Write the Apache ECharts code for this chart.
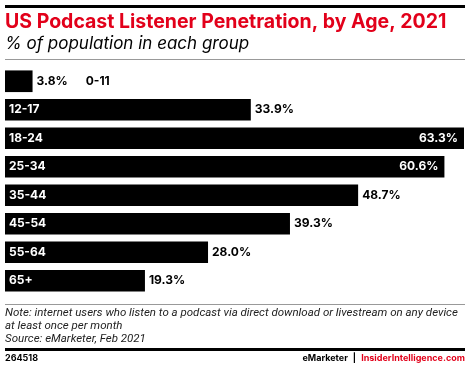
<!DOCTYPE html>
<html><head><meta charset="utf-8">
<script src="https://cdn.jsdelivr.net/npm/echarts@6/dist/echarts.min.js"></script>
<style>html,body{margin:0;padding:0;background:#fff}#c{width:470px;height:369px}</style>
</head><body><div id="c"></div>
<script>
var categories = ['0-11','12-17','18-24','25-34','35-44','45-54','55-64','65+'];
var values = [3.8, 33.9, 63.3, 60.6, 48.7, 39.3, 28.0, 19.3];
var insideValueCats = ['18-24','25-34'];
var outsideNameCats = ['0-11'];

var RED = '#e2001a';
var FONT = 'Inter';
var chart = echarts.init(document.getElementById('c'), null, {renderer:'canvas'});

var nameData = values.map(function(v,i){
  var hide = outsideNameCats.indexOf(categories[i]) >= 0;
  return {value:v, label:{show:!hide}};
});
var valData = values.map(function(v,i){
  var c = categories[i];
  var d = {value:v};
  if (insideValueCats.indexOf(c) >= 0) {
    d.label = {position:'insideRight', color:'#fff', distance:6};
  } else if (outsideNameCats.indexOf(c) >= 0) {
    d.label = {formatter: function(p){ return '{v|' + p.value.toFixed(1) + '%}{c|' + p.name + '}'; }};
  }
  return d;
});

chart.setOption({
  animation:false,
  grid:{left:5, right:6, top:67, height:228},
  xAxis:{type:'value', min:0, max:63.3, show:false},
  yAxis:{type:'category', data:categories, inverse:true, show:false},
  series:[
    {type:'bar', data:nameData, barCategoryGap:'24%', itemStyle:{color:'#000'}, z:2,
     label:{show:true, position:'insideLeft', distance:4, color:'#fff', fontFamily:FONT, fontWeight:'bold', fontSize:12,
       formatter:function(p){return p.name;}}},
    {type:'bar', data:valData, barCategoryGap:'24%', barGap:'-100%', itemStyle:{color:'rgba(0,0,0,0)'}, z:3,
     label:{show:true, position:'right', distance:4, color:'#000', fontFamily:FONT, fontWeight:'bold', fontSize:12,
       formatter:function(p){return p.value.toFixed(1)+'%';},
       rich:{v:{fontFamily:FONT, fontWeight:'bold', fontSize:12, color:'#000'},
             c:{fontFamily:FONT, fontWeight:'bold', fontSize:12, color:'#000', padding:[0,0,0,18]}}}}
  ],
  graphic:[
    {type:'rect', shape:{x:5, y:5, width:460, height:3}, style:{fill:'#000'}},
    {type:'text', left:5, top:12, style:{text:'US Podcast Listener Penetration, by Age, 2021', fill:RED, font:'bold 19.5px '+FONT}},
    {type:'text', left:5, top:35, style:{text:'% of population in each group', fill:'#000', font:'italic 17px '+FONT}},
    {type:'rect', shape:{x:5, y:59, width:460, height:1}, style:{fill:'#999'}},
    {type:'rect', shape:{x:5, y:304, width:460, height:1}, style:{fill:'#999'}},
    {type:'text', left:5, top:307, style:{text:'Note: internet users who listen to a podcast via direct download or livestream on any device\nat least once per month\nSource: eMarketer, Feb 2021', fill:'#222', font:'italic 11.5px Roboto', lineHeight:13}},
    {type:'rect', shape:{x:5, y:348, width:460, height:3}, style:{fill:'#000'}},
    {type:'text', left:5, top:354, style:{text:'264518', fill:'#000', font:'bold 9px '+FONT}},
    {type:'text', right:5, top:354, style:{text:'{a|eMarketer}{b||}{c|InsiderIntelligence.com}',
      rich:{a:{fill:'#000', font:'bold 9px '+FONT}, b:{fill:'#000', font:'bold 9px '+FONT, padding:[0,5,0,5]}, c:{fill:RED, font:'bold 9px '+FONT}}}}
  ]
});
</script></body></html>
